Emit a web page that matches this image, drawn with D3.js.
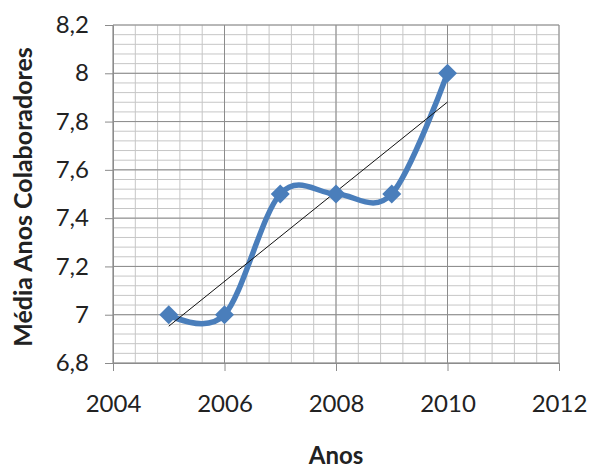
<!DOCTYPE html>
<html><head><meta charset="utf-8">
<script src="https://cdn.jsdelivr.net/npm/d3@7"></script>
<style>body{margin:0;background:#fff}svg{display:block}</style>
</head><body>
<svg id="c" width="590" height="468"></svg>
<script>
const years = [2005, 2006, 2007, 2008, 2009, 2010];
const values = [7.0, 7.0, 7.5, 7.5, 7.5, 8.0];
const xTicks = [2004, 2006, 2008, 2010, 2012];
const yTicks = [6.8, 7.0, 7.2, 7.4, 7.6, 7.8, 8.0, 8.2];
const xTitle = "Anos";
const yTitle = "Média Anos Colaboradores";

const svg = d3.select("#c");
const L = 113, R = 559, T = 25, B = 363;
const x = d3.scaleLinear().domain([2004, 2012]).range([L, R]);
const y = d3.scaleLinear().domain([6.8, 8.2]).range([B, T]);
const font = "Lato, 'Open Sans', sans-serif";

// minor grid
const g = svg.append("g");
d3.range(2004, 2012.001, 0.4).forEach(v => {
  g.append("line").attr("x1", x(v)).attr("x2", x(v)).attr("y1", T).attr("y2", B)
    .attr("stroke", "#c6c6c6").attr("stroke-width", 1);
});
d3.range(6.8, 8.2001, 0.04).forEach(v => {
  g.append("line").attr("x1", L).attr("x2", R).attr("y1", y(v)).attr("y2", y(v))
    .attr("stroke", "#c6c6c6").attr("stroke-width", 1);
});
// major grid
xTicks.forEach(v => {
  g.append("line").attr("x1", x(v)).attr("x2", x(v)).attr("y1", T).attr("y2", B)
    .attr("stroke", "#8c8c8c").attr("stroke-width", 1);
});
yTicks.forEach(v => {
  g.append("line").attr("x1", L).attr("x2", R).attr("y1", y(v)).attr("y2", y(v))
    .attr("stroke", "#8c8c8c").attr("stroke-width", 1);
});

// axes
const fmt = d => d3.format(".1~f")(d).replace(".", ",");
const ya = svg.append("g").attr("transform", `translate(${L},0)`)
  .call(d3.axisLeft(y).tickValues(yTicks).tickSize(8).tickPadding(16).tickFormat(fmt));
const xa = svg.append("g").attr("transform", `translate(0,${B})`)
  .call(d3.axisBottom(x).tickValues(xTicks).tickSize(8).tickPadding(24).tickFormat(d3.format("d")));
[ya, xa].forEach(a => {
  a.select(".domain").attr("stroke", "#8c8c8c");
  a.selectAll(".tick line").attr("stroke", "#8c8c8c");
  a.selectAll("text").attr("font-family", font).attr("font-size", 24).attr("fill", "#222");
});

// smoothed line
const pts = years.map((yr, i) => [x(yr), y(values[i])]);
svg.append("path").attr("d", d3.line().curve(d3.curveCardinal.tension(0))(pts))
  .attr("fill", "none").attr("stroke", "#4a7ebb").attr("stroke-width", 5.5)
  .attr("stroke-linecap", "round");

// trendline (linear regression of the data)
const mx = d3.mean(years), my = d3.mean(values);
const slope = d3.sum(years, (v, i) => (v - mx) * (values[i] - my)) / d3.sum(years, v => (v - mx) ** 2);
const f = v => my + slope * (v - mx);
svg.append("line").attr("x1", x(years[0])).attr("y1", y(f(years[0])))
  .attr("x2", x(years[years.length - 1])).attr("y2", y(f(years[years.length - 1])))
  .attr("stroke", "#111").attr("stroke-width", 1);

// markers
svg.selectAll(".m").data(pts).enter().append("path")
  .attr("transform", d => `translate(${d[0]},${d[1]})`)
  .attr("d", "M0,-9.5L9.5,0L0,9.5L-9.5,0Z").attr("fill", "#4a7ebb");

// titles
svg.append("text").attr("x", x(2008)).attr("y", 464).attr("text-anchor", "middle")
  .attr("font-family", font).attr("font-weight", "bold").attr("font-size", 24).attr("fill", "#222")
  .text(xTitle);
svg.append("text").attr("transform", `translate(32,197) rotate(-90)`)
  .attr("text-anchor", "middle").attr("font-family", font).attr("font-weight", "bold")
  .attr("font-size", 25).attr("fill", "#222").text(yTitle);
</script>
</body></html>
